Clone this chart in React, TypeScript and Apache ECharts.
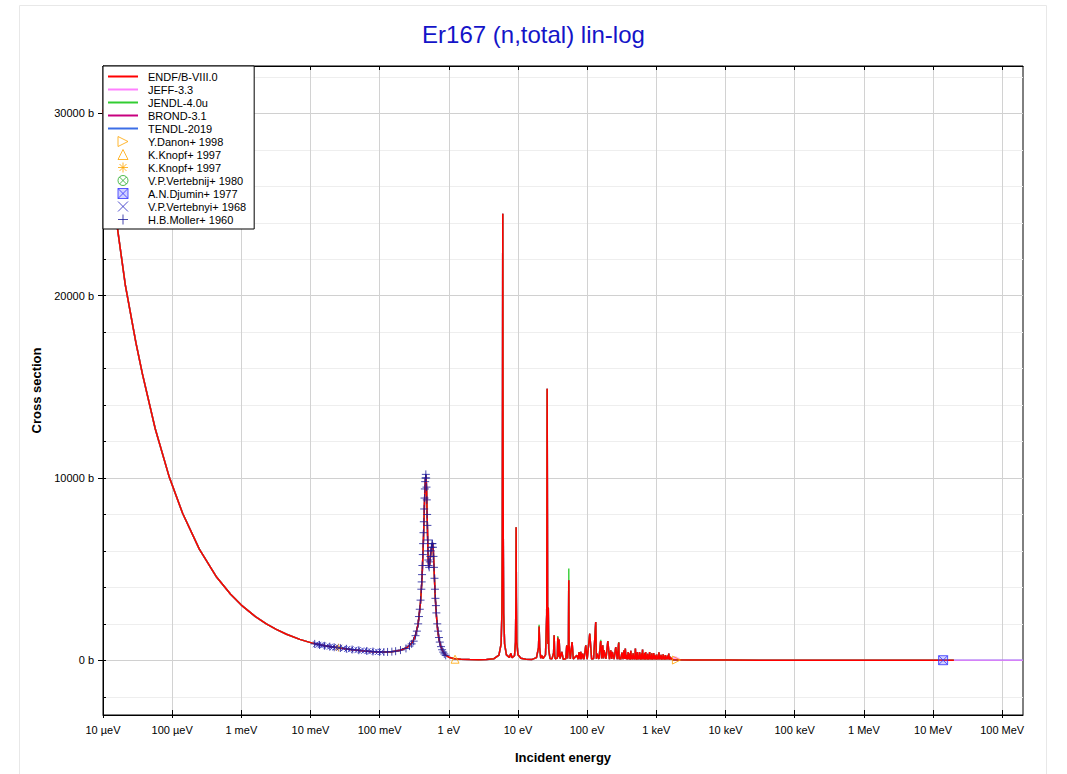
import React, { useEffect, useRef } from "react";
import * as echarts from "echarts";

const FONT = "'Liberation Sans', Arial, Helvetica, sans-serif";

// Axis ticks
const xTickValues = [1e-5, 1e-4, 1e-3, 1e-2, 1e-1, 1, 10, 100, 1e3, 1e4, 1e5, 1e6, 1e7, 1e8];
const xTickLabels = ["10 µeV", "100 µeV", "1 meV", "10 meV", "100 meV", "1 eV", "10 eV", "100 eV", "1 keV", "10 keV", "100 keV", "1 MeV", "10 MeV", "100 MeV"];
const yMajorTicks = [0, 10000, 20000, 30000];
const yMinorTicks = [-2000, 2000, 4000, 6000, 8000, 12000, 14000, 16000, 18000, 22000, 24000, 26000, 28000, 32000];

// ENDF/B-VIII.0 total cross section, thermal + resolved range [eV, barn]
const endfResolved: [number, number][] = [
  [1e-5, 30200], [1.25e-5, 27000], [1.5e-5, 24600], [2.1e-5, 20600], [3e-5, 17400], [3.72e-5, 15700],
  [5.69e-5, 12700], [9.08e-5, 10050], [1.42e-4, 8050], [2.47e-4, 6100], [4.32e-4, 4600], [7e-4, 3620],
  [1e-3, 3030], [1.6e-3, 2400], [2.3e-3, 2000], [3.2e-3, 1700], [4.5e-3, 1430], [7e-3, 1150],
  [0.0109, 930], [0.016, 800], [0.0252, 690], [0.04, 585], [0.06, 515], [0.08, 475], [0.1, 458],
  [0.12, 455], [0.15, 475], [0.2, 550], [0.25, 700], [0.3, 1000], [0.33, 1380], [0.36, 2000],
  [0.39, 3200], [0.41, 4500], [0.43, 6700], [0.445, 8700], [0.458, 9900], [0.467, 10150], [0.476, 9500],
  [0.488, 7600], [0.5, 5800], [0.512, 5100], [0.53, 5300], [0.55, 5900], [0.57, 6350], [0.582, 6450],
  [0.595, 6100], [0.612, 5000], [0.635, 3500], [0.66, 2500], [0.69, 1650], [0.72, 1150], [0.76, 800],
  [0.82, 480], [0.9, 280], [1.0, 170], [1.2, 90], [1.5, 55], [2, 38], [2.7, 35], [3.5, 45], [4.5, 90],
  [5.3, 280], [5.7, 900], [5.85, 2600], [5.93, 7000], [5.98, 15000], [6.02, 24500], [6.06, 15000],
  [6.12, 7000], [6.2, 2600], [6.4, 900], [6.8, 300], [7.5, 160], [7.9, 380], [8.2, 140], [8.9, 250],
  [9.2, 1000], [9.33, 3500], [9.4, 7300], [9.47, 3500], [9.6, 1000], [10, 300], [11, 110], [13, 60],
  [16, 50], [18.5, 150], [19.8, 700], [20.2, 1860], [20.6, 700], [21.3, 120], [22.1, 260], [23, 100],
  [25, 300], [26, 2500], [26.4, 14900], [26.8, 2500], [27.1, 900], [27.4, 2890], [27.8, 600], [29, 100],
  [31, 80], [32.7, 400], [33.3, 1370], [33.9, 300], [34.5, 90], [37, 120], [37.6, 1245], [38.4, 200],
  [39.3, 1135], [40.5, 100], [43, 456], [45, 60], [49, 80], [50.7, 823], [52, 100], [53.6, 800],
  [54.2, 4390], [54.8, 800], [57, 80], [60.5, 1005], [63, 70], [71, 270], [74, 60], [76.4, 456], [79, 70],
  [81, 460], [83, 60], [86, 365], [90, 60], [95.5, 823], [100, 60], [109, 1460], [116, 70], [124, 100],
  [133, 2100], [136, 80], [139, 365], [148, 70], [157, 1060], [162, 100], [168, 823], [172, 100],
  [175, 550], [187, 80], [199, 1060], [210, 60], [219, 550], [226, 70], [231, 456], [245, 70], [259, 731],
  [272, 60], [286, 969], [290, 60], [299, 180], [306, 50], [318, 420], [330, 60], [340, 550], [350, 80],
  [356, 640], [364, 70], [372, 300], [380, 50], [392, 456], [400, 60], [410, 365], [418, 40], [428, 520],
  [436, 60], [446, 280], [452, 50], [462, 380], [470, 70], [480, 250], [488, 50], [498, 640], [505, 60],
  [514, 320], [522, 40], [530, 450], [540, 60], [552, 280], [560, 50], [572, 456], [580, 80], [590, 300],
  [598, 40], [610, 380], [620, 60], [632, 585], [642, 50], [655, 250], [664, 70], [676, 400], [686, 40],
  [700, 456], [712, 60], [722, 220], [734, 50], [748, 350], [760, 40], [772, 300], [786, 60], [800, 456],
  [814, 50], [828, 250], [842, 70], [856, 380], [870, 40], [884, 200], [898, 60], [914, 400], [930, 50],
  [946, 300], [962, 60], [978, 250], [996, 40], [1014, 320], [1032, 50], [1050, 200], [1070, 60],
  [1090, 440], [1110, 50], [1130, 260], [1150, 60], [1170, 300], [1190, 40], [1212, 220], [1234, 50],
  [1256, 330], [1280, 60], [1304, 200], [1328, 40], [1352, 280], [1378, 60], [1404, 180], [1430, 50],
  [1456, 260], [1484, 60], [1512, 365], [1540, 40], [1570, 200], [1600, 50], [1630, 150], [1660, 40],
  [1690, 120], [1720, 30],
];

// Smooth (unresolved / fast) range shared by the evaluations up to 20 MeV
const endfUnresolved: [number, number][] = [
  [1750, 12], [3000, 11.5], [1e4, 10.8], [3e4, 10], [1e5, 9.3], [3e5, 8], [1e6, 7], [3e6, 7.4],
  [1e7, 5.9], [1.4e7, 5.6], [2e7, 5.5],
];

// JEFF-3.3 resonances beyond the ENDF resolved range
const jeffExtraResonances: [number, number][] = [
  [1750, 40], [1780, 180], [1810, 50], [1850, 220], [1890, 60], [1930, 200], [1970, 40], [2010, 160],
  [2060, 50], [2110, 120], [2160, 30], [2200, 13],
];

// JEFF-3.3 and TENDL-2019 continue to 200 MeV
const highEnergyExtension: [number, number][] = [
  [3e7, 5.2], [5e7, 4.8], [1e8, 4.6], [1.5e8, 4.7], [2e8, 4.8],
];

// JENDL-4.0u peak tops that differ from ENDF
const jendlPeakTops: [number, number][] = [
  [20.2, 1950], [37.6, 1330], [54.2, 5030], [157, 1120], [286, 1000],
];

// Experimental data
const mollerData: [number, number][] = [
  [0.0115, 900], [0.0135, 845], [0.016, 795], [0.019, 750], [0.022, 715], [0.027, 678], [0.033, 632],
  [0.04, 592], [0.05, 553], [0.065, 512], [0.08, 481], [0.1, 458], [0.115, 455], [0.13, 460],
  [0.15, 475], [0.17, 500], [0.2, 560], [0.24, 650], [0.27, 780], [0.29, 900], [0.31, 1050],
  [0.33, 1350], [0.345, 1600], [0.36, 2000], [0.37, 2400], [0.38, 2800], [0.39, 3300], [0.4, 3900],
  [0.405, 4300], [0.41, 4700], [0.415, 5200], [0.42, 5800], [0.425, 6400], [0.43, 7000], [0.435, 7600],
  [0.44, 8300], [0.445, 8900], [0.45, 9400], [0.455, 9800], [0.46, 10000], [0.465, 10200], [0.47, 10000],
  [0.475, 9500], [0.48, 8800], [0.485, 8000], [0.49, 7400], [0.495, 6600], [0.5, 6000], [0.505, 5500],
  [0.51, 5200], [0.52, 5100], [0.53, 5400], [0.54, 5700], [0.55, 6000], [0.56, 6200], [0.57, 6400],
  [0.58, 6400], [0.59, 6200], [0.6, 5700], [0.61, 5100], [0.62, 4500], [0.63, 3900], [0.64, 3400],
  [0.65, 3000], [0.66, 2600], [0.68, 2000], [0.7, 1600], [0.72, 1250], [0.74, 1000], [0.77, 750],
  [0.8, 580], [0.83, 450], [0.86, 350], [0.9, 270],
];
const vertebnyi1968Data: [number, number][] = [
  [0.012, 880], [0.013, 850], [0.014, 830], [0.015, 810], [0.017, 775], [0.019, 745], [0.021, 725],
  [0.023, 705], [0.026, 685], [0.03, 655], [0.034, 625], [0.038, 600], [0.043, 578], [0.048, 560],
  [0.054, 542], [0.06, 525], [0.067, 508], [0.075, 490], [0.085, 472], [0.095, 462], [0.105, 456],
];
const djuminData: [number, number][] = [[1.4e7, 5.6]];
const vertebnij1980Data: [number, number][] = [];
const knopfStarData: [number, number][] = [[0.0253, 695]];
const knopfTriangleData: [number, number][] = [[1.23, 60]];
const danonData: [number, number][] = [[1950, 15]];

const lineNames = ["ENDF/B-VIII.0", "JEFF-3.3", "JENDL-4.0u", "BROND-3.1", "TENDL-2019"];
const pointNames = [
  "Y.Danon+ 1998", "K.Knopf+ 1997", "K.Knopf+ 1997 ", "V.P.Vertebnij+ 1980", "A.N.Djumin+ 1977",
  "V.P.Vertebnyi+ 1968", "H.B.Moller+ 1960",
];

const SYM_TRI_RIGHT = "path://M0 0 L10 5 L0 10 Z";
const SYM_TRI_UP = "path://M5 0 L10 10 L0 10 Z";
const SYM_STAR = "path://M5 0 L5 10 M0 5 L10 5 M1.5 1.5 L8.5 8.5 M8.5 1.5 L1.5 8.5";
const SYM_CIRCLE_X = "path://M0 5 A5 5 0 1 0 10 5 A5 5 0 1 0 0 5 Z M1.46 1.46 L8.54 8.54 M8.54 1.46 L1.46 8.54";
const SYM_BOX_X = "path://M0 0 L10 0 L10 10 L0 10 Z M0 0 L10 10 M10 0 L0 10";
const SYM_X = "path://M0 0 L10 10 M10 0 L0 10";
const SYM_PLUS = "path://M5 0 L5 10 M0 5 L10 5";
const LEGEND_LINE_ICON = "path://M0 0 L30 0 L30 2 L0 2 Z";

function buildOption() {
  const endfData = [...endfResolved, ...endfUnresolved];
  const jendlData = endfResolved
    .map(([e, s]) => {
      const o = jendlPeakTops.find((p) => p[0] === e);
      return [e, o ? o[1] : s];
    })
    .concat(endfUnresolved);
  const jeffData = [
    ...endfResolved,
    ...jeffExtraResonances,
    ...endfUnresolved.filter((p) => p[0] > 2200),
    ...highEnergyExtension,
  ];
  const brondData = endfData;
  const tendlData = [...endfData, ...highEnergyExtension];

  const line = (name: string, color: string, data: any[], width: number, opacity: number) => ({
    name,
    type: "line",
    data,
    symbol: "none",
    showSymbol: false,
    z: 2,
    lineStyle: { color, width, opacity },
    itemStyle: { color },
    emphasis: { disabled: true },
  });
  const scatter = (name: string, symbol: string, stroke: string, fill: string, size: number, data: any[]) => ({
    name,
    type: "scatter",
    data,
    symbol,
    symbolSize: size,
    z: 3,
    itemStyle: { color: fill, borderColor: stroke, borderWidth: 1 },
    emphasis: { disabled: true },
  });

  const xLabel = (v: number) => {
    const i = xTickValues.findIndex((t) => Math.abs(Math.log10(t) - Math.log10(v)) < 1e-6);
    return i >= 0 ? xTickLabels[i] : "";
  };

  const xBase = {
    type: "log",
    logBase: 10,
    min: 1e-5,
    max: 2e8,
  };

  return {
    animation: false,
    backgroundColor: "#ffffff",
    textStyle: { fontFamily: FONT },
    title: {
      text: "Er167 (n,total) lin-log",
      left: "center",
      top: 17,
      textStyle: { color: "#1414c8", fontSize: 24, fontWeight: "normal", fontFamily: FONT },
    },
    graphic: [
      {
        type: "rect",
        silent: true,
        z: -10,
        shape: { x: 19.5, y: 5.5, width: 1027, height: 800 },
        style: { fill: "none", stroke: "#e8e8e8", lineWidth: 1 },
      },
    ],
    grid: {
      left: 103,
      right: 44,
      top: 66,
      bottom: 59,
      show: true,
      borderColor: "#000",
      borderWidth: 1,
      backgroundColor: "transparent",
    },
    legend: {
      orient: "vertical",
      left: 103,
      top: 66,
      itemWidth: 30,
      itemHeight: 10,
      itemGap: 0,
      padding: [4, 8, 3, 5],
      backgroundColor: "#fff",
      borderColor: "#000",
      borderWidth: 1,
      borderRadius: 0,
      z: 10,
      selectedMode: false,
      data: [
        ...lineNames.map((n) => ({ name: n, icon: LEGEND_LINE_ICON, itemStyle: { borderWidth: 0 } })),
        ...pointNames.map((n) => ({ name: n, itemStyle: { borderWidth: 1 } })),
      ],
      textStyle: { fontSize: 11, lineHeight: 13, height: 13, color: "#000", fontFamily: FONT, padding: [0, 0, 0, 5] },
    },
    xAxis: [
      {
        ...xBase,
        position: "bottom",
        name: "Incident energy",
        nameLocation: "middle",
        nameGap: 36,
        nameTextStyle: { fontSize: 13, fontWeight: "bold", color: "#000", fontFamily: FONT },
        axisLine: { show: true, onZero: false, lineStyle: { color: "#000", width: 1 } },
        axisTick: { show: true, inside: true, length: 5, customValues: xTickValues, lineStyle: { color: "#000" } },
        axisLabel: {
          show: true,
          customValues: xTickValues,
          formatter: xLabel,
          fontSize: 11,
          color: "#000",
          margin: 9,
          fontFamily: FONT,
        },
        splitLine: { show: true, lineStyle: { color: "#d2d2d2", width: 1 } },
        minorTick: { show: false },
        minorSplitLine: { show: false },
      },
      {
        ...xBase,
        position: "top",
        axisLine: { show: true, onZero: false, lineStyle: { color: "#000", width: 1 } },
        axisTick: { show: true, inside: true, length: 4, customValues: xTickValues, lineStyle: { color: "#000" } },
        axisLabel: { show: false, customValues: xTickValues },
        splitLine: { show: false },
      },
      {
        ...xBase,
        position: "bottom",
        axisLine: { show: false, onZero: false },
        axisTick: { show: true, inside: false, length: 3, customValues: xTickValues, lineStyle: { color: "#000" } },
        axisLabel: { show: false, customValues: xTickValues },
        splitLine: { show: false },
      },
    ],
    yAxis: [
      {
        type: "value",
        min: -3000,
        max: 32600,
        position: "left",
        name: "Cross section",
        nameLocation: "middle",
        nameGap: 59,
        nameTextStyle: { fontSize: 13, fontWeight: "bold", color: "#000", fontFamily: FONT },
        axisLine: { show: true, onZero: false, lineStyle: { color: "#000", width: 1 } },
        axisTick: { show: true, inside: false, length: 5, customValues: yMajorTicks, lineStyle: { color: "#000" } },
        axisLabel: {
          show: true,
          customValues: yMajorTicks,
          formatter: (v: number) => `${v} b`,
          fontSize: 11,
          color: "#000",
          margin: 9,
          fontFamily: FONT,
        },
        splitLine: { show: true, lineStyle: { color: "#d0d0d0", width: 1 } },
      },
      {
        type: "value",
        min: -3000,
        max: 32600,
        position: "left",
        axisLine: { show: false, onZero: false },
        axisTick: { show: true, inside: true, length: 3, customValues: yMinorTicks, lineStyle: { color: "#000" } },
        axisLabel: { show: false, customValues: yMinorTicks },
        splitLine: { show: true, lineStyle: { color: "#eeeeee", width: 1 } },
      },
      {
        type: "value",
        min: -3000,
        max: 32600,
        position: "left",
        axisLine: { show: false, onZero: false },
        axisTick: { show: true, inside: true, length: 3, customValues: yMajorTicks, lineStyle: { color: "#000" } },
        axisLabel: { show: false, customValues: yMajorTicks },
        splitLine: { show: false },
      },
    ],
    series: [
      line("TENDL-2019", "#3c6ee6", tendlData, 1.5, 0.8),
      line("BROND-3.1", "#c8007f", brondData, 1.5, 0.8),
      line("JEFF-3.3", "#ff80ff", jeffData, 1.5, 0.75),
      line("JENDL-4.0u", "#32cd32", jendlData, 1.5, 0.9),
      line("ENDF/B-VIII.0", "#ff0000", endfData, 1.5, 1),
      scatter("Y.Danon+ 1998", SYM_TRI_RIGHT, "#ffa500", "transparent", 8, danonData),
      scatter("K.Knopf+ 1997", SYM_TRI_UP, "#ffa500", "transparent", 8, knopfTriangleData),
      scatter("K.Knopf+ 1997 ", SYM_STAR, "#ffa500", "transparent", 8, knopfStarData),
      scatter("V.P.Vertebnij+ 1980", SYM_CIRCLE_X, "#22aa22", "transparent", 9, vertebnij1980Data),
      scatter("A.N.Djumin+ 1977", SYM_BOX_X, "#3232ff", "rgba(90,90,255,0.35)", 9, djuminData),
      scatter("V.P.Vertebnyi+ 1968", SYM_X, "#2424c0", "transparent", 6, vertebnyi1968Data),
      scatter("H.B.Moller+ 1960", SYM_PLUS, "#1a1a9a", "transparent", 8, mollerData),
    ],
  };
}

export default function App() {
  const ref = useRef<HTMLDivElement>(null);
  useEffect(() => {
    if (!ref.current) return;
    const chart = echarts.init(ref.current, undefined, { renderer: "svg" });
    chart.setOption(buildOption() as any);
    return () => chart.dispose();
  }, []);
  return (
    <div
      ref={ref}
      style={{ position: "absolute", left: 0, top: 0, width: 1067, height: 774, background: "#fff" }}
    />
  );
}
